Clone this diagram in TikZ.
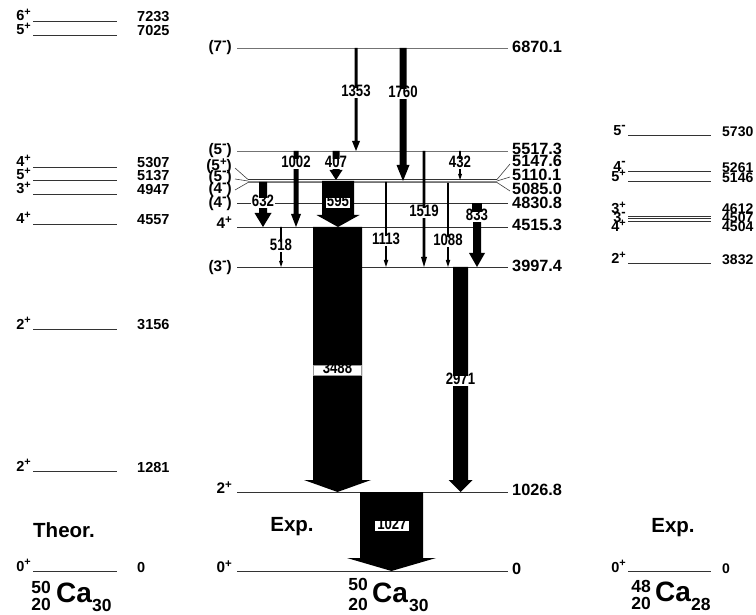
\documentclass[tikz,border=0pt]{standalone}
\usepackage{fontspec}
\setmainfont{Liberation Sans}
\newfontfamily\gfont{Liberation Sans}[UprightFont={* Bold},BoldFont={* Bold},FakeStretch=0.8]
\newcommand\garrow[6]{\fill[black] ({#1-#4/2},#2) -- ({#1-#4/2},{#3-#6}) -- ({#1-#5/2},{#3-#6}) -- (#1,#3) -- ({#1+#5/2},{#3-#6}) -- ({#1+#4/2},{#3-#6}) -- ({#1+#4/2},#2) -- cycle;}
\newcommand\plus{\raisebox{0.36em}{\scalebox{0.75}{+}}}
\newcommand\mins{\raisebox{0.42em}{\scalebox{0.9}{-}}}
\begin{document}
\begin{tikzpicture}[x=1pt,y=-1pt,
  lvl/.style={draw=black!80,line width=0.9pt},
  glvl/.style={draw=black!55,line width=0.9pt},
  sen/.style={anchor=base west,inner sep=0pt,font=\bfseries\fontsize{14.5}{14.5}\selectfont},
  ren/.style={anchor=base west,inner sep=0pt,font=\bfseries\fontsize{14}{14}\selectfont},
  ssp/.style={anchor=base east,inner sep=0pt,font=\bfseries\fontsize{14.5}{14.5}\selectfont},
  cen/.style={anchor=west,inner sep=0pt,text height=0.72em,text depth=0pt,font=\bfseries\fontsize{16.3}{16.3}\selectfont},
  csp/.style={anchor=east,inner sep=0pt,text height=0.72em,text depth=0pt,font=\bfseries\fontsize{15.3}{15.3}\selectfont},
  gl/.style={fill=white,inner sep=1pt,text height=0.72em,text depth=0pt,font=\gfont\fontsize{16.5}{16.5}\selectfont},
  big/.style={inner sep=0pt,font=\bfseries\fontsize{20.5}{20.5}\selectfont},
  ca/.style={inner sep=0pt,font=\bfseries\fontsize{28}{28}\selectfont},
  num/.style={inner sep=0pt,font=\bfseries\fontsize{17.5}{17.5}\selectfont}]
\useasboundingbox[fill=white] (0,0) rectangle (756,615);

% ---------------- left column: theory 50Ca
\foreach \y/\s/\e in {21/6\plus/7233,35/5\plus/7025,167/4\plus/5307,180/5\plus/5137,194/3\plus/4947,224/4\plus/4557,329/2\plus/3156,471/2\plus/1281,571/0\plus/0}{
  \draw[lvl] (33,\y) -- (117,\y);
  \node[ssp] at (31,\y) {\s};
  \node[sen] at (137,{\y+1}) {\e};
}
\node[big,anchor=west] (theor) at (33,530) {Theor.};
\node[num,anchor=east] (la) at (51,587) {50};
\node[num,anchor=east] (lb) at (51,604) {20};
\node[ca,anchor=base west] (lc) at (56,602) {Ca};
\node[num,anchor=west] (ld) at (92,605) {30};

% ---------------- right column: exp 48Ca
\foreach \y/\s/\e in {135/5\mins/5730,171/4\mins/5261,181/5\plus/5146,263/2\plus/3832,571/0\plus/0}{
  \draw[lvl] (628,\y) -- (711,\y);
  \node[ssp] at (626,{\y+1}) {\s};
  \node[ren] at (722,{\y+2}) {\e};
}
\draw[lvl] (628,216) -- (711,216);
\draw[lvl] (628,218.5) -- (711,218.5);
\draw[lvl] (628,221) -- (711,221);
\node[ssp] at (626,214) {3\plus};
\node[ssp] at (626,222.5) {3\mins};
\node[ssp] at (626,231.5) {4\plus};
\node[ren] at (722,214) {4612};
\node[ren] at (722,222.5) {4507};
\node[ren] at (722,231.5) {4504};
\node[big] (exp2) at (673,528) {Exp.};
\node[num,anchor=east] (ra) at (651,586) {48};
\node[num,anchor=east] (rb) at (651,603) {20};
\node[ca,anchor=base west] (rc) at (655,601) {Ca};
\node[num,anchor=west] (rd) at (691,604) {28};

% ---------------- centre column: exp 50Ca
\draw[glvl] (237,48) -- (508,48);
\draw[glvl] (237,151) -- (508,151);
\draw[lvl] (248,179.5) -- (497,179.5);
\draw[draw=black!45,line width=0.9pt] (248,181) -- (497,181);
\draw[glvl] (248,182.5) -- (497,182.5);
\draw[lvl] (237,203) -- (508,203);
\draw[lvl] (237,227) -- (508,227);
\draw[lvl] (237,267) -- (508,267);
\draw[lvl] (237,492) -- (508,492);
\draw[lvl] (237,571) -- (508,571);
% fans
\draw[black!75,line width=0.6pt] (235,168) -- (248,179.5);
\draw[black!75,line width=0.6pt] (235,179) -- (248,181);
\draw[black!75,line width=0.6pt] (235,190) -- (248,182.5);
\draw[black!75,line width=0.6pt] (497,179.5) -- (510,164);
\draw[black!75,line width=0.6pt] (497,181) -- (510,177);
\draw[black!75,line width=0.6pt] (497,182.5) -- (510,191);

\node[csp] at (232,48) {(7\mins)};
\node[csp] at (232,151) {(5\mins)};
\node[csp] at (232,167) {(5\plus)};
\node[csp] at (232,178) {(5\mins)};
\node[csp] at (232,190) {(4\mins)};
\node[csp] at (232,204) {(4\mins)};
\node[csp] at (232,225) {4\plus};
\node[csp] at (232,268) {(3\mins)};
\node[csp] at (232,490) {2\plus};
\node[csp] at (232,569) {0\plus};

\node[cen] at (512,49) {6870.1};
\node[cen] at (512,151) {5517.3};
\node[cen] at (512,163) {5147.6};
\node[cen] at (512,177) {5110.1};
\node[cen] at (512,191) {5085.0};
\node[cen] at (512,205) {4830.8};
\node[cen] at (512,227) {4515.3};
\node[cen] at (512,268) {3997.4};
\node[cen] at (512,492) {1026.8};
\node[cen] at (512,571) {0};

% gamma arrows
\garrow{356}{48}{151}{3}{8}{10}
\garrow{403}{48}{181}{7}{13}{16}
\garrow{296}{151}{227}{5}{10}{13}
\garrow{336}{151}{180}{7}{13}{10}
\garrow{338}{181}{227}{32}{43}{12}
\garrow{263}{182}{227}{8}{17}{14}
\garrow{281}{227}{267}{1.6}{4}{6}
\garrow{337.5}{227}{492}{49}{67}{12}
\garrow{386}{182}{267}{1.6}{4.5}{7}
\garrow{424}{151}{267}{2.6}{6}{10}
\garrow{448}{183}{267}{1.6}{4.5}{7}
\garrow{460}{151}{180}{1.6}{4}{6}
\garrow{477}{220}{267}{8}{16}{14}
\fill[black] (472,220) rectangle (482,203);
\garrow{460.5}{267}{492}{15}{24}{12}
\garrow{391.5}{492}{571}{63}{89}{13}

% gamma labels
\node[gl] (g1353) at (356,93) {1353};
\node[gl] (g1760) at (403,94) {1760};
\node[gl] (g1002) at (296,164) {1002};
\node[gl] (g407)  at (336,164) {407};
\node[gl] (g432)  at (460,164) {432};
\node[gl] (g632)  at (263,203) {632};
\node[gl] (g595)  at (338,203) {595};
\node[gl] (g1519) at (424,213) {1519};
\node[gl] (g833)  at (477,217) {833};
\node[gl] (g518)  at (281,247) {518};
\node[gl] (g1113) at (386,241) {1113};
\node[gl] (g1088) at (448,242) {1088};
\node[gl,draw=black!40,line width=0.4pt,minimum width=48pt,inner sep=1.2pt] (g3488) at (337.5,370) {3488};
\node[gl] (g2971) at (460.5,381) {2971};
\node[gl,inner sep=1.2pt,minimum width=34pt] (g1027) at (392,526) {1027};

\node[big] (exp1) at (292,527) {Exp.};
\node[num,anchor=east] (ca) at (368,584) {50};
\node[num,anchor=east] (cb) at (368,604) {20};
\node[ca,anchor=base west] (cc) at (372,602) {Ca};
\node[num,anchor=west] (cd) at (409,605) {30};
\end{tikzpicture}
\end{document}
